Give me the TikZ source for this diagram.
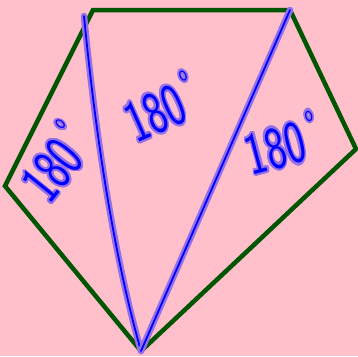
\documentclass[tikz,border=0pt]{standalone}
\usepackage{fontspec}
\usepackage{contour}
\usetikzlibrary{calc}
\definecolor{bgpink}{RGB}{255,192,203}
\definecolor{edgegreen}{RGB}{0,85,0}
\definecolor{penblue}{RGB}{0,0,255}
\definecolor{penhalo}{RGB}{150,112,232}
\contourlength{2.2pt}
\newcommand{\anglesum}{\scalebox{0.7}[1]{\contour{penhalo}{180\,\raisebox{0.62em}{\fontsize{24}{24}\selectfont o}}}}

\begin{document}
\begin{tikzpicture}[x=1pt,y=-1pt,
    edge/.style={draw=edgegreen, line width=4.5pt, line join=miter},
    pen/.style={draw=penblue, line width=1.8pt, line cap=round,
      preaction={draw=penhalo, line width=6.5pt, line cap=round}},
    angletext/.style={text=penblue, inner sep=0pt,
      font=\sffamily\fontsize{60}{60}\selectfont}]
  % background and size
  \fill[bgpink] (0,0) rectangle (358,356);
  \useasboundingbox (0,0) rectangle (358,356);

  % pentagon corners
  \coordinate (topleft) at (93,10);
  \coordinate (topright) at (290,10);
  \coordinate (right) at (356,149);
  \coordinate (bottom) at (141,351);
  \coordinate (left) at (5,186);
  \coordinate (penstart) at (84,16);

  \draw[edge] (topleft) -- (topright) -- (right) -- (bottom) -- (left) -- cycle;

  % diagonals
  \draw[pen] (penstart) .. controls (98,160) and (118,270) .. (bottom);
  \draw[pen] (topright) -- (bottom);

  % angle sums
  \node[angletext, rotate=51] (leftsum) at (55,163) {\anglesum};
  \node[angletext, rotate=24] (middlesum) at (161,108) {\anglesum};
  \node[angletext, rotate=15] (rightsum) at (282,144) {\anglesum};
\end{tikzpicture}
\end{document}
